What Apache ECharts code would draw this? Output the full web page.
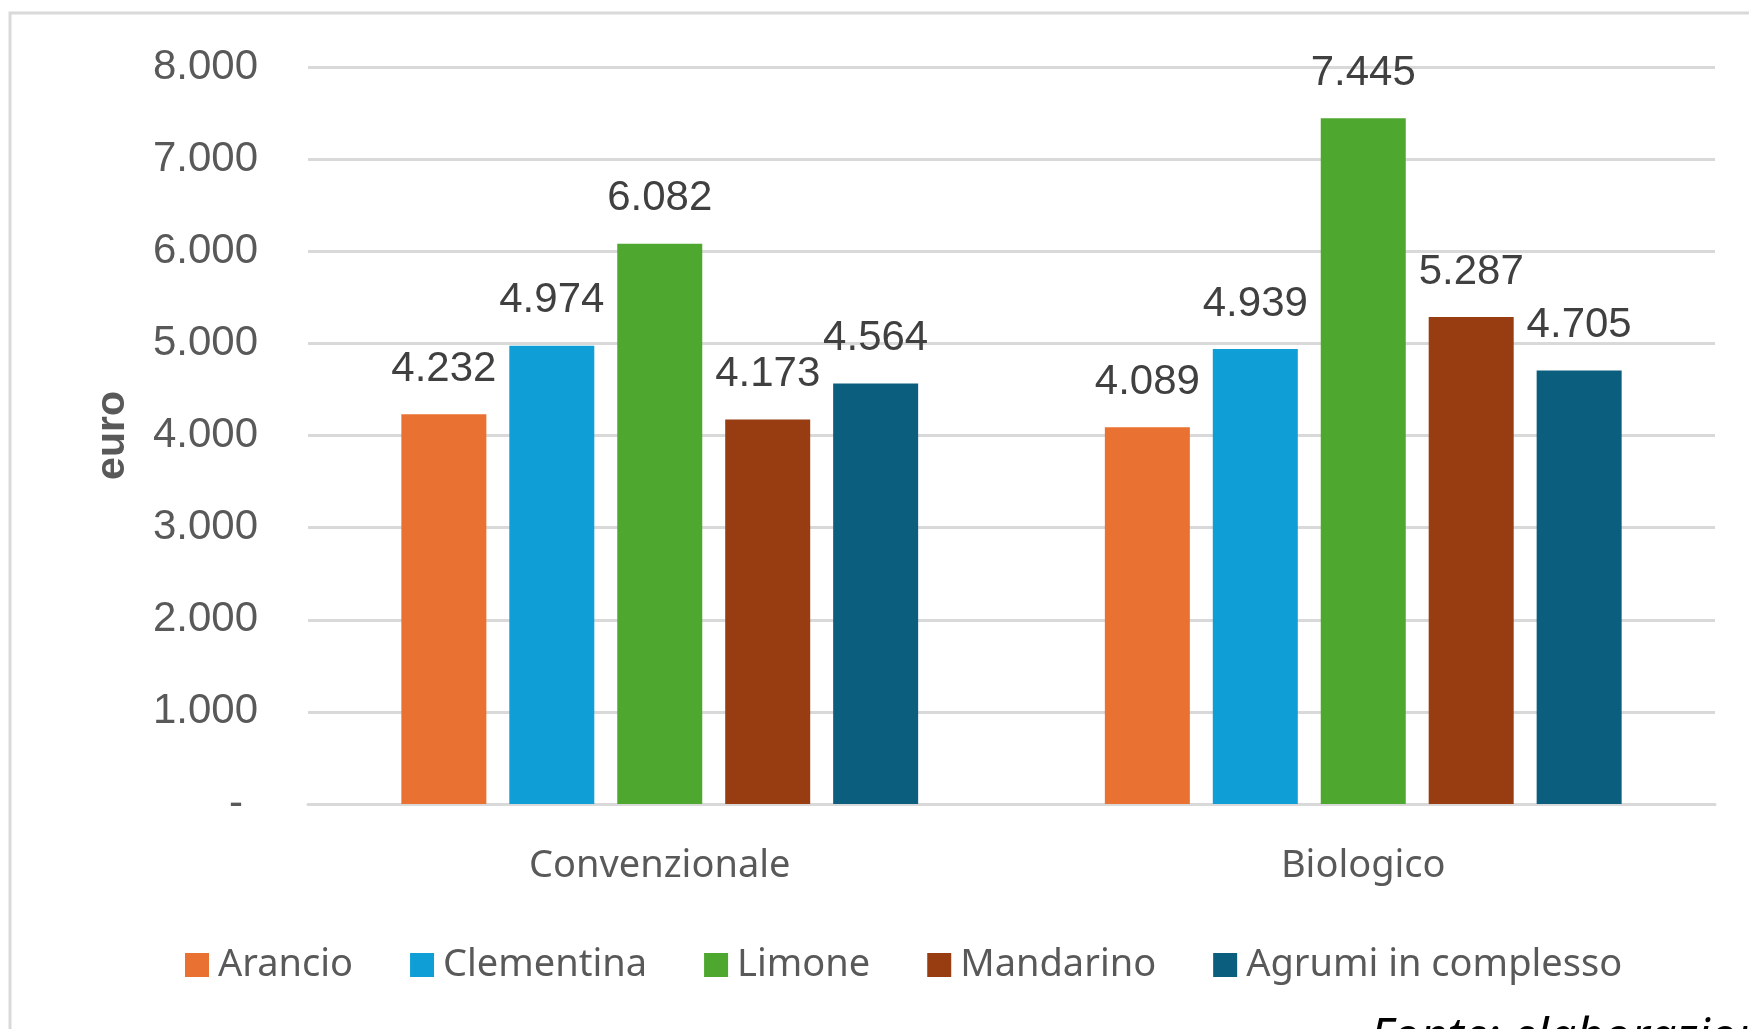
<!DOCTYPE html>
<html>
<head>
<meta charset="utf-8">
<script src="https://cdn.jsdelivr.net/npm/echarts@6/dist/echarts.min.js"></script>
<style>
html,body{margin:0;padding:0;background:#fff;}
#chart{width:1749px;height:1029px;}
</style>
</head>
<body>
<div id="chart"></div>
<script>
const categories = ['Convenzionale', 'Biologico'];
const seriesNames = ['Arancio', 'Clementina', 'Limone', 'Mandarino', 'Agrumi in complesso'];
const arancio = [4232, 4089];
const clementina = [4974, 4939];
const limone = [6082, 7445];
const mandarino = [4173, 5287];
const agrumi = [4564, 4705];
const colors = ['#E97132', '#0F9ED5', '#4EA72E', '#983D12', '#0C5E7E'];
const yTicks = { min: 0, max: 8000, interval: 1000 };
const yName = 'euro';
const sourceNote = 'Fonte: elaborazioni';

function fmt(v) {
  if (v === 0) return '{d|-}';
  const s = String(Math.round(v));
  return s.replace(/\B(?=(\d{3})+(?!\d))/g, '.');
}

const values = [arancio, clementina, limone, mandarino, agrumi];
const chart = echarts.init(document.getElementById('chart'), null, { renderer: 'canvas' });

const series = seriesNames.map((name, i) => ({
  name: name,
  type: 'bar',
  data: values[i],
  barWidth: 85,
  barGap: '27%',
  itemStyle: { color: colors[i] },
  label: {
    show: true,
    position: 'top',
    distance: 24,
    formatter: p => fmt(p.value),
    fontFamily: 'Liberation Sans',
    fontSize: 42,
    color: '#404040'
  }
}));

chart.setOption({
  animation: false,
  backgroundColor: '#ffffff',
  grid: { left: 308, right: 34, top: 67, bottom: 225, containLabel: false },
  legend: {
    data: seriesNames,
    left: 180,
    top: 941,
    icon: 'rect',
    itemWidth: 24,
    itemHeight: 24,
    itemGap: 57,
    textStyle: { fontFamily: 'Noto Sans', fontSize: 38, color: '#595959', padding: [0, 0, 0, 4] }
  },
  xAxis: {
    type: 'category',
    data: categories,
    axisLine: { show: true, lineStyle: { color: '#d9d9d9', width: 3 } },
    axisTick: { show: false },
    axisLabel: { fontFamily: 'Noto Sans', fontSize: 38, color: '#595959', margin: 43 }
  },
  yAxis: {
    type: 'value',
    min: yTicks.min,
    max: yTicks.max,
    interval: yTicks.interval,
    name: yName,
    nameLocation: 'middle',
    nameGap: 175,
    nameRotate: 90,
    nameTextStyle: { fontFamily: 'Liberation Sans', fontSize: 41, fontWeight: 'bold', color: '#595959' },
    axisLine: { show: false },
    axisTick: { show: false },
    splitLine: { lineStyle: { color: '#d9d9d9', width: 3 } },
    axisLabel: {
      fontFamily: 'Liberation Sans',
      fontSize: 42,
      color: '#595959',
      margin: 50,
      formatter: fmt,
      rich: { d: { fontFamily: 'Liberation Sans', fontSize: 42, color: '#595959', padding: [0, 15, 0, 0] } }
    }
  },
  graphic: [
    {
      type: 'rect',
      silent: true,
      z: -10,
      shape: { x: 10, y: 13, width: 1850, height: 1150 },
      style: { fill: 'none', stroke: '#d9d9d9', lineWidth: 3 }
    },
    {
      type: 'text',
      left: 1370,
      top: 1014,
      silent: true,
      style: {
        text: sourceNote,
        font: 'italic 48px "Noto Sans"',
        fill: '#000000'
      }
    }
  ],
  series: series
});
</script>
</body>
</html>
